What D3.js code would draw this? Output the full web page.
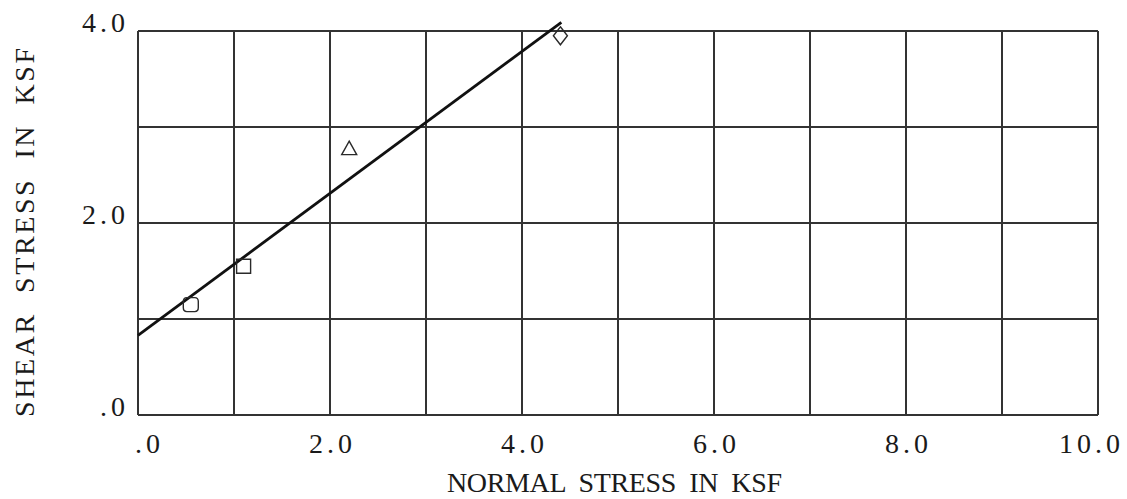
<!DOCTYPE html>
<html lang="en">
<head>
<meta charset="utf-8">
<script src="https://d3js.org/d3.v7.min.js"></script>
<style type="text/css">
body {
	margin: 0;
	background: #fff;
}
/* Old plotter look: thin serif text */
text {
	font-family: "Liberation Serif", "Times New Roman", serif;
	fill: #1a1a1a;
	white-space: pre;
}
</style>
</head>
<body>
<script type="text/javascript">

// Test points (normal stress, shear stress) in ksf
var normalStress = [0.55, 1.1, 2.2, 4.4];
var shearStress  = [1.15, 1.55, 2.78, 3.95];
var pointSymbols = ["circle", "square", "triangle", "diamond"];

// Strength envelope end points
var fitNormal = [0, 4.41];
var fitShear  = [0.83, 4.09];

var xTicks = [0, 2, 4, 6, 8, 10];
var xTickLabels = [".0", "2.0", "4.0", "6.0", "8.0", "10.0"];
var yTicks = [0, 2, 4];
var yTickLabels = [".0", "2.0", "4.0"];

var width = 1127;
var height = 499;
var margin = {top: 31, right: 29, bottom: 84, left: 138};

var x = d3.scaleLinear()
          .domain([0, 10])
          .range([margin.left, width - margin.right]);

var y = d3.scaleLinear()
          .domain([0, 4])
          .range([height - margin.bottom, margin.top]);

var svg = d3.select("body")
            .append("svg")
            .attr("width", width)
            .attr("height", height);

// grid, one line per unit
var grid = svg.append("g")
              .attr("stroke", "#333")
              .attr("stroke-width", 1.1)
              .attr("shape-rendering", "crispEdges");

grid.selectAll(".vline")
    .data(d3.range(0, 11))
    .enter()
    .append("line")
    .attr("class", "vline")
    .attr("x1", function(d) { return x(d); })
    .attr("x2", function(d) { return x(d); })
    .attr("y1", y(0))
    .attr("y2", y(4));

grid.selectAll(".hline")
    .data(d3.range(0, 5))
    .enter()
    .append("line")
    .attr("class", "hline")
    .attr("x1", x(0))
    .attr("x2", x(10))
    .attr("y1", function(d) { return y(d); })
    .attr("y2", function(d) { return y(d); });

// tick labels (right aligned a little past the tick, like the plotter did)
svg.selectAll(".xlab")
   .data(xTicks)
   .enter()
   .append("text")
   .attr("class", "xlab")
   .attr("x", function(d) { return x(d) + 26; })
   .attr("y", y(0) + 38)
   .attr("text-anchor", "end")
   .style("font-size", "28px")
   .style("letter-spacing", "4px")
   .text(function(d, i) { return xTickLabels[i]; });

svg.selectAll(".ylab")
   .data(yTicks)
   .enter()
   .append("text")
   .attr("class", "ylab")
   .attr("x", margin.left - 9)
   .attr("y", function(d) { return y(d) + 1; })
   .attr("text-anchor", "end")
   .style("font-size", "28px")
   .style("letter-spacing", "4px")
   .text(function(d, i) { return yTickLabels[i]; });

// axis titles
svg.append("text")
   .attr("x", 447)
   .attr("y", 492)
   .attr("textLength", 335)
   .attr("lengthAdjust", "spacing")
   .style("font-size", "28px")
   .text("NORMAL  STRESS  IN  KSF");

svg.append("text")
   .attr("transform", "translate(34,417) rotate(-90)")
   .attr("textLength", 369)
   .attr("lengthAdjust", "spacing")
   .style("font-size", "28px")
   .text("SHEAR  STRESS  IN  KSF");

// strength envelope
svg.append("line")
   .attr("x1", x(fitNormal[0]))
   .attr("y1", y(fitShear[0]))
   .attr("x2", x(fitNormal[1]))
   .attr("y2", y(fitShear[1]))
   .attr("stroke", "#111")
   .attr("stroke-width", 2.8);

// plot symbols, drawn as open outlines
function symbolPath(kind) {
	if (kind == "circle") {
		return "M-4,-7 L4,-7 Q7.5,-7 7.5,-3 L7.5,3 Q7.5,7 4,7 L-4,7 Q-7.5,7 -7.5,3 L-7.5,-3 Q-7.5,-7 -4,-7 Z";
	} else if (kind == "square") {
		return "M-7,-7 L7,-7 L7,7 L-7,7 Z";
	} else if (kind == "triangle") {
		return "M0,-7 L7.5,6.5 L-7.5,6.5 Z";
	} else {
		return "M0,-9 L7,0 L0,9 L-7,0 Z";
	}
}

svg.selectAll(".pt")
   .data(normalStress)
   .enter()
   .append("path")
   .attr("class", "pt")
   .attr("transform", function(d, i) {
     return "translate(" + x(d) + "," + y(shearStress[i]) + ")";
   })
   .attr("d", function(d, i) { return symbolPath(pointSymbols[i]); })
   .attr("fill", "none")
   .attr("stroke", "#2a2a2a")
   .attr("stroke-width", 1.4);

</script>
</body>
</html>
